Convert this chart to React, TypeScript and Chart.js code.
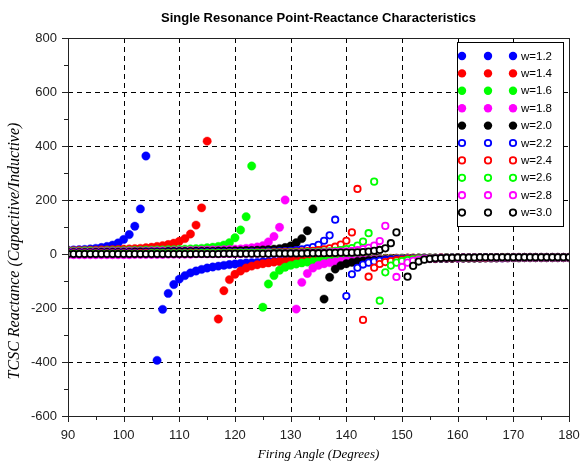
import React, { useEffect, useRef } from 'react';
import { Chart, registerables } from 'chart.js';

Chart.register(...registerables);

// Firing angle (degrees) – x values shared by all series
const angles = [
  90, 91, 92, 93, 94, 95, 96, 97, 98, 99,
  100, 101, 102, 103, 104, 105, 106, 107, 108, 109,
  110, 111, 112, 113, 114, 115, 116, 117, 118, 119,
  120, 121, 122, 123, 124, 125, 126, 127, 128, 129,
  130, 131, 132, 133, 134, 135, 136, 137, 138, 139,
  140, 141, 142, 143, 144, 145, 146, 147, 148, 149,
  150, 151, 152, 153, 154, 155, 156, 157, 158, 159,
  160, 161, 162, 163, 164, 165, 166, 167, 168, 169,
  170, 171, 172, 173, 174, 175, 176, 177, 178, 179,
  180,
];

const xTickValues = [90, 100, 110, 120, 130, 140, 150, 160, 170, 180];
const yTickValues = [-600, -400, -200, 0, 200, 400, 600, 800];

const seriesLabels = ['w=1.2', 'w=1.4', 'w=1.6', 'w=1.8', 'w=2.0', 'w=2.2', 'w=2.4', 'w=2.6', 'w=2.8', 'w=3.0'];

// TCSC reactance (null = off-chart at resonance)
const w12 = [
  14, 15, 16, 17, 19, 21, 24, 28, 33, 41,
  54, 72, 103, 167, 363, null, -394, -205, -146, -113,
  -93, -80, -70, -63, -57, -52, -48, -45, -42, -39,
  -37, -35, -33, -32, -31, -29, -28, -27, -26, -25,
  -25, -24, -23, -23, -22, -22, -21, -21, -20, -20,
  -19, -19, -19, -18, -18, -18, -17, -17, -17, -16,
  -16, -16, -16, -15, -15, -15, -15, -15, -14, -14,
  -14, -14, -14, -14, -14, -14, -14, -14, -14, -13,
  -13, -13, -13, -13, -13, -13, -13, -13, -13, -13,
  -13,
];
const w14 = [
  12, 12, 13, 13, 14, 14, 15, 15, 16, 17,
  18, 19, 20, 21, 23, 25, 28, 31, 35, 40,
  47, 57, 74, 107, 171, 418, null, -241, -136, -95,
  -75, -63, -52, -45, -40, -36, -33, -30, -28, -27,
  -25, -24, -23, -22, -21, -21, -20, -20, -19, -19,
  -19, -18, -18, -18, -17, -17, -17, -16, -16, -16,
  -16, -15, -15, -15, -15, -15, -15, -14, -14, -14,
  -14, -14, -14, -14, -14, -14, -14, -14, -13, -13,
  -13, -13, -13, -13, -13, -13, -13, -13, -13, -13,
  -13,
];
const w16 = [
  10, 10, 10, 11, 11, 11, 11, 12, 12, 12,
  12, 13, 13, 13, 14, 14, 15, 15, 16, 16,
  17, 18, 19, 20, 21, 23, 25, 28, 33, 42,
  60, 89, 138, 326, null, -197, -111, -80, -60, -49,
  -42, -37, -33, -30, -28, -26, -25, -24, -23, -22,
  -21, -20, -20, -19, -19, -18, -18, -17, -17, -17,
  -16, -16, -16, -15, -15, -15, -15, -15, -14, -14,
  -14, -14, -14, -14, -14, -14, -14, -14, -13, -13,
  -13, -13, -13, -13, -13, -13, -13, -13, -13, -13,
  -13,
];
const w18 = [
  8, 8, 8, 8, 8, 9, 9, 9, 9, 9,
  9, 10, 10, 10, 10, 11, 11, 11, 11, 12,
  12, 12, 13, 13, 14, 14, 15, 15, 16, 17,
  18, 19, 21, 23, 26, 31, 45, 65, 99, 200,
  null, -204, -105, -72, -52, -42, -36, -32, -29, -27,
  -25, -24, -23, -22, -21, -20, -20, -19, -19, -18,
  -18, -17, -17, -17, -16, -16, -16, -15, -15, -15,
  -15, -15, -14, -14, -14, -14, -14, -14, -14, -14,
  -13, -13, -13, -13, -13, -13, -13, -13, -13, -13,
  -13,
];
const w20 = [
  6, 6, 6, 6, 6, 7, 7, 7, 7, 7,
  7, 7, 8, 8, 8, 8, 8, 8, 9, 9,
  9, 9, 9, 10, 10, 10, 10, 11, 11, 11,
  12, 12, 13, 13, 14, 15, 16, 18, 20, 24,
  30, 42, 57, 86, 167, null, -167, -86, -56, -43,
  -36, -31, -28, -26, -24, -23, -22, -21, -20, -20,
  -19, -19, -18, -18, -17, -17, -17, -16, -16, -16,
  -15, -15, -15, -15, -15, -14, -14, -14, -14, -14,
  -14, -14, -13, -13, -13, -13, -13, -13, -13, -13,
  -13,
];
const w22 = [
  4, 4, 4, 4, 4, 4, 4, 4, 4, 4,
  4, 4, 4, 4, 5, 5, 5, 5, 5, 5,
  5, 5, 5, 6, 6, 6, 6, 6, 6, 7,
  7, 7, 7, 8, 8, 8, 9, 9, 10, 11,
  12, 14, 17, 21, 26, 34, 49, 69, 127, null,
  -156, -75, -51, -39, -32, -28, -25, -23, -21, -20,
  -19, -18, -17, -17, -16, -16, -15, -15, -15, -14,
  -14, -14, -14, -14, -14, -13, -13, -13, -13, -13,
  -13, -13, -13, -13, -13, -13, -13, -13, -13, -13,
  -13,
];
const w24 = [
  2, 2, 2, 2, 2, 2, 2, 2, 2, 2,
  2, 2, 2, 3, 3, 3, 3, 3, 3, 3,
  3, 3, 4, 4, 4, 4, 4, 4, 4, 5,
  5, 5, 5, 5, 6, 6, 6, 7, 7, 8,
  8, 9, 10, 11, 12, 14, 17, 21, 27, 35,
  49, 80, 241, -244, -84, -51, -37, -30, -26, -23,
  -21, -19, -18, -17, -17, -16, -16, -15, -15, -15,
  -14, -14, -14, -14, -14, -14, -13, -13, -13, -13,
  -13, -13, -13, -13, -13, -13, -13, -13, -13, -13,
  -13,
];
const w26 = [
  1, 1, 1, 1, 1, 1, 1, 1, 1, 1,
  1, 1, 1, 1, 1, 2, 2, 2, 2, 2,
  2, 2, 2, 2, 3, 3, 3, 3, 3, 3,
  3, 4, 4, 4, 4, 4, 5, 5, 5, 5,
  6, 6, 6, 7, 7, 8, 9, 10, 12, 14,
  18, 22, 31, 46, 77, 268, -173, -68, -43, -32,
  -26, -22, -20, -18, -17, -16, -15, -15, -14, -14,
  -14, -14, -13, -13, -13, -13, -13, -13, -13, -13,
  -13, -13, -13, -13, -13, -13, -13, -13, -13, -13,
  -13,
];
const w28 = [
  -4, -4, -4, -4, -4, -4, -4, -4, -4, -4,
  -4, -4, -3, -3, -3, -3, -3, -3, -2, -2,
  -2, -2, -2, -1, -1, -1, -1, -1, 0, 0,
  0, 0, 1, 1, 1, 1, 2, 2, 2, 3,
  3, 3, 4, 4, 5, 5, 6, 7, 8, 9,
  10, 12, 14, 18, 23, 31, 48, 104, null, -85,
  -48, -32, -25, -21, -18, -17, -16, -15, -14, -14,
  -14, -13, -13, -13, -13, -13, -13, -13, -13, -13,
  -13, -13, -13, -13, -13, -13, -13, -13, -13, -13,
  -13,
];
const w30 = [
  0, 0, 0, 0, 0, 0, 0, 0, 0, 0,
  0, 0, 0, 0, 0, 0, 0, 0, 0, 0,
  0, 0, 0, 0, 0, 0, 0, 0, 1, 1,
  1, 1, 1, 1, 1, 1, 1, 2, 2, 2,
  2, 2, 2, 3, 3, 3, 3, 4, 4, 5,
  5, 5, 6, 7, 9, 12, 15, 21, 40, 80,
  null, -84, -44, -28, -21, -18, -16, -15, -14, -14,
  -13, -13, -13, -13, -12, -12, -12, -12, -12, -12,
  -12, -12, -12, -12, -12, -12, -12, -12, -12, -12,
  -12,
];

const seriesValues = [w12, w14, w16, w18, w20, w22, w24, w26, w28, w30];
const seriesColors = ['#0000ff', '#ff0000', '#00ff00', '#ff00ff', '#000000', '#0000ff', '#ff0000', '#00ff00', '#ff00ff', '#000000'];
const seriesFilled = [true, true, true, true, true, false, false, false, false, false];

const TITLE = 'Single Resonance Point-Reactance Characteristics';
const X_TITLE = 'Firing Angle (Degrees)';
const Y_TITLE = 'TCSC Reactance (Capacitive/Inductive)';

const SANS = '"Liberation Sans", Arial, sans-serif';
const SERIF = '"Liberation Serif", "Times New Roman", serif';

function drawMarker(ctx: CanvasRenderingContext2D, x: number, y: number, color: string, filled: boolean) {
  ctx.beginPath();
  if (filled) {
    ctx.arc(x, y, 4.2, 0, Math.PI * 2);
    ctx.fillStyle = color;
    ctx.fill();
  } else {
    ctx.arc(x, y, 3.2, 0, Math.PI * 2);
    ctx.fillStyle = '#ffffff';
    ctx.fill();
    ctx.lineWidth = 1.8;
    ctx.strokeStyle = color;
    ctx.stroke();
  }
}

const framePlugin = {
  id: 'scilabFrame',
  beforeDatasetsDraw(chart: any) {
    const { ctx, chartArea } = chart;
    const xs = chart.scales.x;
    const ys = chart.scales.y;
    const { left, right, top, bottom } = chartArea;
    ctx.save();
    ctx.strokeStyle = '#000000';
    ctx.lineWidth = 1;
    ctx.setLineDash([5, 4]);
    for (const v of xTickValues) {
      if (v === xTickValues[0] || v === xTickValues[xTickValues.length - 1]) continue;
      const px = Math.round(xs.getPixelForValue(v)) + 0.5;
      ctx.beginPath();
      ctx.moveTo(px, top);
      ctx.lineTo(px, bottom);
      ctx.stroke();
    }
    for (const v of yTickValues) {
      if (v === yTickValues[0] || v === yTickValues[yTickValues.length - 1]) continue;
      const py = Math.round(ys.getPixelForValue(v)) + 0.5;
      ctx.beginPath();
      ctx.moveTo(left, py);
      ctx.lineTo(right, py);
      ctx.stroke();
    }
    ctx.setLineDash([]);
    ctx.restore();
  },
  afterDatasetsDraw(chart: any) {
    const { ctx, chartArea } = chart;
    const xs = chart.scales.x;
    const ys = chart.scales.y;
    const { left, right, top, bottom } = chartArea;
    ctx.save();
    ctx.strokeStyle = '#222222';
    ctx.lineWidth = 1;
    ctx.strokeRect(Math.round(left) + 0.5, Math.round(top) + 0.5, Math.round(right - left), Math.round(bottom - top));
    for (let i = 0; i < yTickValues.length; i++) {
      const v = yTickValues[i];
      const py = Math.round(ys.getPixelForValue(v)) + 0.5;
      ctx.beginPath();
      ctx.moveTo(left - 6, py);
      ctx.lineTo(left, py);
      ctx.stroke();
      if (i < yTickValues.length - 1) {
        const mv = (v + yTickValues[i + 1]) / 2;
        const my = Math.round(ys.getPixelForValue(mv)) + 0.5;
        ctx.beginPath();
        ctx.moveTo(left - 4, my);
        ctx.lineTo(left, my);
        ctx.stroke();
      }
    }
    for (let i = 0; i < xTickValues.length; i++) {
      const v = xTickValues[i];
      const px = Math.round(xs.getPixelForValue(v)) + 0.5;
      ctx.beginPath();
      ctx.moveTo(px, bottom);
      ctx.lineTo(px, bottom + 6);
      ctx.stroke();
      if (i < xTickValues.length - 1) {
        const mv = (v + xTickValues[i + 1]) / 2;
        const mx = Math.round(xs.getPixelForValue(mv)) + 0.5;
        ctx.beginPath();
        ctx.moveTo(mx, bottom);
        ctx.lineTo(mx, bottom + 4);
        ctx.stroke();
      }
    }
    // chart title
    ctx.fillStyle = '#000000';
    ctx.font = `bold 13px ${SANS}`;
    ctx.textAlign = 'center';
    ctx.textBaseline = 'middle';
    ctx.fillText(TITLE, (left + right) / 2, 18);

    // y-axis title (rotated)
    ctx.save();
    ctx.translate(15, 251);
    ctx.rotate(-Math.PI / 2);
    ctx.font = `italic 16px ${SERIF}`;
    ctx.textAlign = 'center';
    ctx.textBaseline = 'middle';
    ctx.fillText(Y_TITLE, 0, 0);
    ctx.restore();

    // legend
    const lx = 457.5, ly = 42.5, lw = 106, lh = 184;
    ctx.fillStyle = '#ffffff';
    ctx.fillRect(lx, ly, lw, lh);
    ctx.strokeStyle = '#000000';
    ctx.strokeRect(lx, ly, lw, lh);
    ctx.font = `11.5px ${SANS}`;
    ctx.textAlign = 'left';
    ctx.textBaseline = 'middle';
    for (let i = 0; i < seriesLabels.length; i++) {
      const ry = 56 + i * 17.4;
      for (const mx of [462, 488, 513]) drawMarker(ctx, mx, ry, seriesColors[i], seriesFilled[i]);
      ctx.fillStyle = '#000000';
      ctx.fillText(seriesLabels[i], 521, ry + 0.5);
    }
    ctx.restore();
  },
};

export default function App() {
  const ref = useRef<HTMLCanvasElement>(null);
  useEffect(() => {
    if (!ref.current) return;
    const datasets = seriesValues.map((vals, i) => ({
      label: seriesLabels[i],
      data: angles.map((a, j) => ({ x: a, y: vals[j] })),
      showLine: false,
      pointStyle: 'circle',
      pointRadius: seriesFilled[i] ? 4.2 : 3.2,
      pointBorderWidth: seriesFilled[i] ? 0.4 : 1.8,
      pointBackgroundColor: seriesFilled[i] ? seriesColors[i] : '#ffffff',
      pointBorderColor: seriesColors[i],
      pointHoverRadius: 0,
      order: seriesLabels.length - i,
    }));
    const chart = new Chart(ref.current, {
      type: 'scatter',
      data: { datasets: datasets as any },
      options: {
        responsive: false,
        animation: false,
        events: [],
        layout: { padding: { top: 38, right: 11, left: 0, bottom: 0 } },
        scales: {
          x: {
            type: 'linear',
            min: 90,
            max: 180,
            afterFit: (s: any) => { s.height = 49; s.paddingLeft = 0; s.paddingRight = 0; },
            afterBuildTicks: (s: any) => { s.ticks = xTickValues.map((v) => ({ value: v })); },
            grid: { display: false, drawTicks: false },
            border: { display: false },
            ticks: { font: { family: SANS, size: 13 }, color: '#222222', padding: 12, maxRotation: 0, autoSkip: false },
            title: { display: true, text: X_TITLE, font: { family: SERIF, size: 13, style: 'italic' }, color: '#000000', padding: { top: 0, bottom: 3 } },
          },
          y: {
            type: 'linear',
            min: -600,
            max: 800,
            afterFit: (s: any) => { s.width = 68; s.paddingTop = 0; s.paddingBottom = 0; },
            afterBuildTicks: (s: any) => { s.ticks = yTickValues.map((v) => ({ value: v })); },
            grid: { display: false, drawTicks: false },
            border: { display: false },
            ticks: { font: { family: SANS, size: 13 }, color: '#222222', padding: 11, autoSkip: false },
            title: { display: false },
          },
        },
        plugins: { legend: { display: false }, tooltip: { enabled: false }, title: { display: false } },
      },
      plugins: [framePlugin],
    });
    return () => chart.destroy();
  }, []);
  return (
    <div style={{ position: 'absolute', left: 0, top: 0, width: 580, height: 465, background: '#ffffff' }}>
      <canvas ref={ref} width={580} height={465} style={{ display: 'block' }} />
    </div>
  );
}
